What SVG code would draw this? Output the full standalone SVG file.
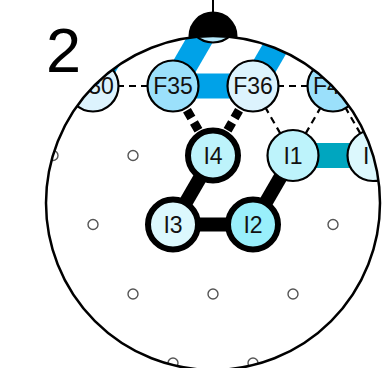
<svg xmlns="http://www.w3.org/2000/svg" width="387" height="368" viewBox="0 0 387 368">
<style>
.lbl{font-family:"Liberation Sans",Arial,sans-serif;font-size:23px;fill:#111;text-anchor:middle}
.lbs{font-family:"Liberation Sans",Arial,sans-serif;font-size:23px;fill:#111;text-anchor:start}
.node{stroke:#000;stroke-width:2.2}
.thick{stroke:#000;stroke-width:6}
.blue{stroke:#00a2e8;stroke-width:25;stroke-linecap:butt}
.teal{stroke:#00a6bf;stroke-width:25}
.blk{stroke:#000;stroke-width:14}
.dthick{stroke:#000;stroke-width:9;stroke-dasharray:9 5}
.dthin{stroke:#000;stroke-width:2.2;stroke-dasharray:7 5}
.dot{fill:#fff;stroke:#555;stroke-width:1.4}
</style>
<defs>
<clipPath id="head"><circle cx="213" cy="203" r="167"/></clipPath>
</defs>
<text x="46" y="72" font-family="Liberation Sans, Arial, sans-serif" font-size="63" fill="#000">2</text>
<g id="nose">
<line x1="213" y1="0" x2="213" y2="12" stroke="#000" stroke-width="2"/>
<circle cx="213" cy="36" r="24.5" fill="#000"/>
</g>
<circle cx="213" cy="203" r="167" fill="#fff"/>
<g clip-path="url(#head)">
<g id="connectors">
<line class="blue" x1="93" y1="86" x2="133" y2="17"/>
<line class="blue" x1="173" y1="86" x2="213" y2="17"/>
<line class="blue" x1="253" y1="86" x2="293" y2="17"/>
<line class="blue" x1="173" y1="86" x2="253" y2="86"/>
<line class="teal" x1="293" y1="155.5" x2="373" y2="155.5"/>
<line class="blk" x1="213" y1="155.5" x2="173" y2="224.5"/>
<line class="blk" x1="173" y1="224.5" x2="253" y2="224.5"/>
<line class="blk" x1="253" y1="224.5" x2="293" y2="155.5"/>
<line class="dthick" x1="173" y1="86" x2="213" y2="155.5"/>
<line class="dthick" x1="253" y1="86" x2="213" y2="155.5"/>
<line class="dthin" x1="93" y1="86" x2="173" y2="86"/>
<line class="dthin" x1="253" y1="86" x2="333" y2="86"/>
<line class="dthin" x1="253" y1="86" x2="293" y2="155.5"/>
<line class="dthin" x1="333" y1="86" x2="293" y2="155.5"/>
<line class="dthin" x1="333" y1="86" x2="373" y2="155.5"/>
</g>
<g id="empty-sites">
<circle class="dot" cx="53" cy="155.5" r="5"/>
<circle class="dot" cx="133" cy="155.5" r="5"/>
<circle class="dot" cx="93" cy="224.5" r="5"/>
<circle class="dot" cx="333" cy="224.5" r="5"/>
<circle class="dot" cx="133" cy="294" r="5"/>
<circle class="dot" cx="213" cy="294" r="5"/>
<circle class="dot" cx="293" cy="294" r="5"/>
<circle class="dot" cx="173" cy="363" r="5"/>
<circle class="dot" cx="253" cy="363" r="5"/>
</g>
<g id="node-top"><circle class="node" cx="213" cy="17" r="25.5" fill="#b5e7fa"/></g>
<g id="node-F30"><circle class="node" cx="93" cy="86" r="25.5" fill="#dcf3fd"/><text class="lbl" x="94" y="94">F30</text></g>
<g id="node-F35"><circle class="node" cx="173" cy="86" r="25.5" fill="#9be0fb"/><text class="lbl" x="173" y="94">F35</text></g>
<g id="node-F36"><circle class="node" cx="253" cy="86" r="25.5" fill="#dcf3fd"/><text class="lbl" x="253" y="94">F36</text></g>
<g id="node-F4"><circle class="node" cx="333" cy="86" r="25.5" fill="#9be0fb"/><text class="lbs" x="313" y="94">F4</text></g>
<g id="node-I4"><circle class="thick" cx="213" cy="155.5" r="25" fill="#bdf3fb"/><text class="lbl" x="213" y="164">I4</text></g>
<g id="node-I1"><circle class="node" cx="293" cy="155.5" r="25.5" fill="#bdf3fb"/><text class="lbl" x="293" y="164">I1</text></g>
<g id="node-I-right"><circle class="node" cx="373" cy="155.5" r="25.5" fill="#dcf8fd"/><text class="lbs" x="363" y="164">I</text></g>
<g id="node-I3"><circle class="thick" cx="173" cy="224.5" r="25" fill="#dcf8fd"/><text class="lbl" x="173" y="233">I3</text></g>
<g id="node-I2"><circle class="thick" cx="253" cy="224.5" r="25" fill="#99effb"/><text class="lbl" x="253" y="233">I2</text></g>
</g>
<circle cx="213" cy="203" r="167" fill="none" stroke="#000" stroke-width="2.5"/>
</svg>
